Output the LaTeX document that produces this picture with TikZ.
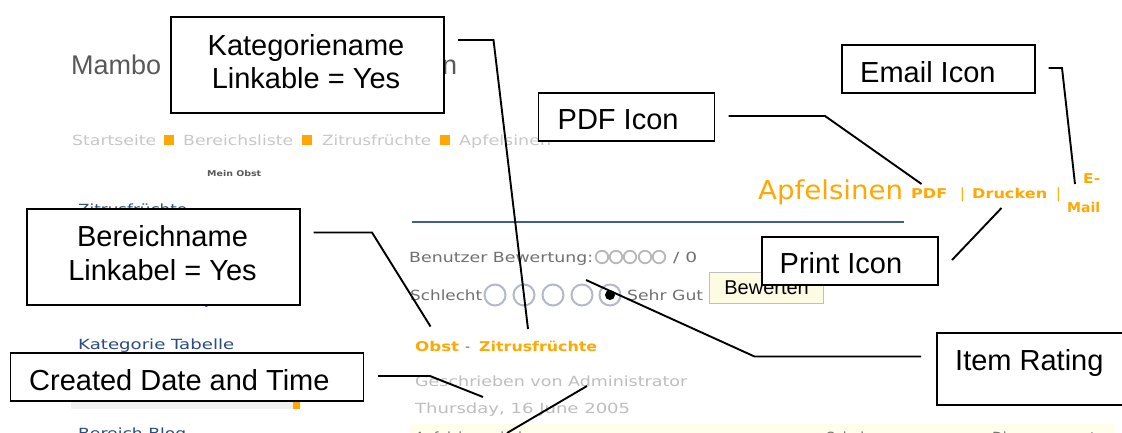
\documentclass[tikz,border=0pt]{standalone}
\usepackage{fontspec}
\usepackage{graphicx}
\setmainfont{Liberation Sans}
\newfontfamily\webfont{DejaVu Sans}
\definecolor{webor}{HTML}{FFA800}
\definecolor{webblue}{HTML}{2B4C80}
\definecolor{crumb}{HTML}{C8C8C8}
\definecolor{dategray}{HTML}{BEBEBE}
\definecolor{rategray}{HTML}{707070}
\definecolor{radioedge}{HTML}{B4B9C6}
\newcommand\fitw[2]{\resizebox{#1pt}{\height}{#2}}
\tikzset{
  x=1pt,y=-1pt,
  callout/.style={draw=black,line width=1.9pt,fill=white,inner sep=0pt,anchor=north west},
  calltext/.style={inner sep=0pt,anchor=base west,text=black,font=\fontsize{29}{29}\selectfont},
  callmid/.style={inner sep=0pt,anchor=base,text=black,font=\fontsize{29}{29}\selectfont},
  leader/.style={draw=black,line width=1.9pt},
  web/.style={inner sep=0pt,anchor=base west,font=\webfont\fontsize{14}{14}\selectfont},
  webb/.style={inner sep=0pt,anchor=base west,font=\webfont\bfseries\fontsize{13.5}{14}\selectfont},
  sq/.style={fill=webor,draw=none,minimum size=9.5pt,inner sep=0pt},
  radio/.style={circle,draw=radioedge,line width=2pt,fill=white,minimum size=21pt,inner sep=0pt},
  mini/.style={circle,draw=black!28,line width=1.8pt,minimum size=12.5pt,inner sep=0pt}
}
\begin{document}
\begin{tikzpicture}
\useasboundingbox (0,0) rectangle (1122,433);
\clip (0,0) rectangle (1122,433);
\fill[white] (0,0) rectangle (1122,433);
% page screenshot
\node[inner sep=0pt,anchor=base west,text=black!65,font=\fontsize{27}{27}\selectfont] (title) at (71,75) {Mambo};
\node[inner sep=0pt,anchor=base west,text=black!65,font=\fontsize{27}{27}\selectfont] (titleend) at (442,75) {n};
\node[web,text=crumb] (c1) at (72,146) {\fitw{84}{Startseite}};
\node[sq] (s1) at (169,140) {};
\node[web,text=crumb] (c2) at (183,146) {\fitw{110}{Bereichsliste}};
\node[sq] (s2) at (307,140) {};
\node[web,text=crumb] (c3) at (322,146) {\fitw{109}{Zitrusfrüchte}};
\node[sq] (s3) at (445,140) {};
\node[web,text=crumb] (c4) at (459,146) {\fitw{92}{Apfelsinen}};
\node[webb,text=black!65,font=\webfont\bfseries\fontsize{8}{8}\selectfont] (mo) at (207,176) {\fitw{54}{Mein Obst}};
\node[web,text=webblue] (m1) at (78,214) {\fitw{109}{Zitrusfrüchte}};
\node[web,text=webblue] (m2) at (204,304) {y};
\node[web,text=webblue] (m3) at (78,349) {\fitw{156}{Kategorie Tabelle}};
\fill[black!6] (71,398) rectangle (293,409);
\fill[webor] (293,398) rectangle (300,409);
\node[web,text=webblue] (m4) at (78,438) {\fitw{108}{Bereich Blog}};
\node[web,text=webor,font=\webfont\fontsize{26}{26}\selectfont] (art) at (758,200) {\fitw{145}{Apfelsinen}};
\node[webb,text=webor] (pdf) at (911,198) {\fitw{36}{PDF}};
\node[web,text=webor] (b1) at (960,198) {|};
\node[webb,text=webor] (dr) at (972,198) {\fitw{75}{Drucken}};
\node[web,text=webor] (b2) at (1056,198) {|};
\node[webb,text=webor] (em1) at (1083,184) {\fitw{17}{E-}};
\node[webb,text=webor] (em2) at (1067,212) {\fitw{33}{Mail}};
\coordinate (ruleA) at (412,222); \coordinate (ruleB) at (904,222);
\draw[line width=1.8pt,color=webblue!90] (ruleA) -- (ruleB);
\node[web,text=rategray] (r1) at (409,262) {\fitw{184}{Benutzer Bewertung:}};
\foreach \i/\cx in {1/602,2/616,3/630,4/645,5/659}{\node[mini] (mc\i) at (\cx,257) {};}
\node[web,text=rategray] (r2) at (673,262) {\fitw{24}{/ 0}};
\node[web,text=rategray] (r3) at (410,300) {\fitw{72}{Schlecht}};
\foreach \i/\cx in {1/495,2/524,3/553,4/582,5/610}{\node[radio] (rb\i) at (\cx,295) {};}
\fill[black] (rb5.center) circle (5);
\node[web,text=rategray] (r4) at (627,300) {\fitw{76}{Sehr Gut}};
\node[draw=black!25,line width=1.2pt,fill=black!8!yellow!12!white,minimum width=114pt,minimum height=31pt,inner sep=0pt,anchor=north west,font=\fontsize{20}{20}\selectfont] (btn) at (709,272) {Bewerten};
\node[webb,text=webor] (o1) at (415,351) {\fitw{44}{Obst}};
\node[web,text=rategray] (o2) at (465,351) {-};
\node[webb,text=webor] (o3) at (479,351) {\fitw{118}{Zitrusfrüchte}};
\node[web,text=dategray] (g1) at (415,386) {\fitw{272}{Geschrieben von Administrator}};
\node[web,text=dategray] (g2) at (415,413) {\fitw{215}{Thursday, 16 June 2005}};
\fill[yellow!8] (410,424) rectangle (1115,433);
\node[web,text=rategray] (b0) at (415,442) {Apfelsinen sind};
\node[web,text=rategray] (b3) at (826,442) {Schalen};
\node[web,text=rategray] (b4) at (992,442) {Dies};
\node[web,text=rategray] (b5) at (1090,442) {t};
% callouts
\node[callout,minimum width=273pt,minimum height=96pt] (kat) at (170,16) {};
\node[callmid] (kattxt1) at (306,55.5) {Kategoriename};
\node[callmid] (kattxt2) at (306,88.5) {Linkable = Yes};
\node[callout,minimum width=176pt,minimum height=48pt] (pdficon) at (537.5,92) {};
\node[calltext] (pdftxt) at (557.5,130) {PDF Icon};
\node[callout,minimum width=193pt,minimum height=48pt] (mailicon) at (841,44) {};
\node[calltext] (mailtxt) at (860,82.5) {Email Icon};
\node[callout,minimum width=273pt,minimum height=96pt] (ber) at (26,208) {};
\node[callmid] (bertxt1) at (162.5,246.5) {Bereichname};
\node[callmid] (bertxt2) at (162.5,280) {Linkabel = Yes};
\node[callout,minimum width=176pt,minimum height=48pt] (printicon) at (761,236) {};
\node[calltext] (printtxt) at (779.5,273.5) {Print Icon};
\node[callout,minimum width=190pt,minimum height=72pt] (rating) at (936,332) {};
\node[calltext] (ratingtxt) at (955,370.5) {Item Rating};
\node[callout,minimum width=353pt,minimum height=48pt] (created) at (9.5,352) {};
\node[calltext] (createdtxt) at (29,390) {Created Date and Time};
% leaders
\coordinate (k0) at (458,40); \coordinate (k1) at (493.5,40); \coordinate (k2) at (528,329);
\draw[leader] (k0) -- (k1) -- (k2);
\coordinate (p0) at (728.5,116); \coordinate (p1) at (825,116); \coordinate (p2) at (921.5,184);
\draw[leader] (p0) -- (p1) -- (p2);
\coordinate (e0) at (1048.5,68); \coordinate (e1) at (1062,68); \coordinate (e2) at (1075,184);
\draw[leader] (e0) -- (e1) -- (e2);
\coordinate (d0) at (1001.5,208); \coordinate (d1) at (952,260);
\draw[leader] (d0) -- (d1);
\coordinate (i0) at (921,356.5); \coordinate (i1) at (754.5,356.5); \coordinate (i2) at (586,280);
\draw[leader] (i0) -- (i1) -- (i2);
\coordinate (b0a) at (313.5,232.5); \coordinate (b1a) at (372,232.5); \coordinate (b2a) at (430.5,326.5);
\draw[leader] (b0a) -- (b1a) -- (b2a);
\coordinate (t0) at (378,376); \coordinate (t1) at (430,376); \coordinate (t2) at (483,397);
\draw[leader] (t0) -- (t1) -- (t2);
\coordinate (a0) at (587,386); \coordinate (a1) at (507,433);
\draw[leader] (a0) -- (a1);
\end{tikzpicture}
\end{document}
